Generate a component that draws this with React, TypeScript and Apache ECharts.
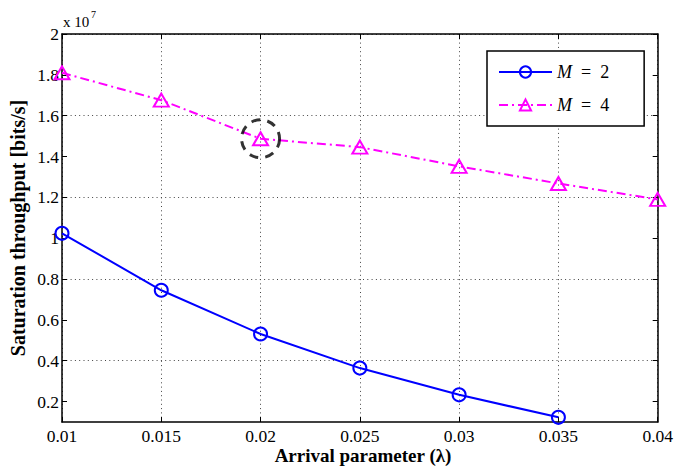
import React, { useEffect, useRef } from "react";
import * as echarts from "echarts";

const lambdaValues = [0.01, 0.015, 0.02, 0.025, 0.03, 0.035, 0.04];
const m2Values = [1.024, 0.745, 0.531, 0.364, 0.233, 0.123];
const m4Values = [1.81, 1.676, 1.487, 1.446, 1.352, 1.268, 1.19];
const highlightPoint = [0.02, 1.487];
const yTickValues = [0.2, 0.4, 0.6, 0.8, 1, 1.2, 1.4, 1.6, 1.8, 2];
const seriesNames = ["M = 2", "M = 4"];

const FONT = "'Liberation Serif', 'DejaVu Serif', serif";

export default function App() {
  const ref = useRef<HTMLDivElement>(null);
  useEffect(() => {
    if (!ref.current) return;
    const chart = echarts.init(ref.current, null, { renderer: "svg" });
    const gridLine = { type: [1, 3.3], color: "#444", width: 1 };
    const axisLine = { show: true, lineStyle: { color: "#000", width: 1.5 } };
    const option: any = {
      animation: false,
      backgroundColor: "#fff",
      grid: { left: 62, top: 34, width: 598, height: 388, containLabel: false },
      xAxis: [
        {
          type: "value",
          min: 0.01,
          max: 0.04,
          interval: 0.005,
          position: "bottom",
          axisLine,
          axisTick: { show: true, inside: true, length: 5, lineStyle: { color: "#000" } },
          axisLabel: {
            color: "#000",
            fontFamily: FONT,
            fontSize: 17.5,
            margin: 5,
            formatter: (v: number) => String(Math.round(v * 1000) / 1000),
          },
          splitLine: { show: true, lineStyle: gridLine },
        },
        {
          type: "value",
          min: 0.01,
          max: 0.04,
          interval: 0.005,
          position: "top",
          axisLine,
          axisTick: { show: true, inside: true, length: 5, lineStyle: { color: "#000" } },
          axisLabel: { show: false },
          splitLine: { show: false },
        },
      ],
      yAxis: [
        {
          type: "value",
          min: 0.1,
          max: 2,
          interval: 0.1,
          position: "left",
          axisLine,
          axisTick: {
            show: true,
            inside: true,
            length: 5,
            customValues: yTickValues,
            lineStyle: { color: "#000" },
          },
          axisLabel: {
            color: "#000",
            fontFamily: FONT,
            fontSize: 17.5,
            margin: 3,
            customValues: yTickValues,
            formatter: (v: number) => String(Math.round(v * 10) / 10),
          },
          splitLine: { show: true, lineStyle: { ...gridLine, color: ["rgba(0,0,0,0)", "#444"] } },
        },
        {
          type: "value",
          min: 0.1,
          max: 2,
          interval: 0.1,
          position: "right",
          axisLine,
          axisTick: {
            show: true,
            inside: true,
            length: 5,
            customValues: yTickValues,
            lineStyle: { color: "#000" },
          },
          axisLabel: { show: false },
          splitLine: { show: false },
        },
      ],
      legend: {
        data: seriesNames,
        orient: "vertical",
        left: 487,
        top: 51,
        itemWidth: 53,
        itemHeight: 14,
        itemGap: 15,
        padding: [12, 35, 12, 11],
        borderColor: "#000",
        borderWidth: 1.5,
        backgroundColor: "#fff",
        formatter: (name: string) =>
          name.replace("M", "{i|M}").replace(/ = /, "\u2002=\u2002"),
        textStyle: {
          fontFamily: FONT,
          fontSize: 18,
          color: "#000",
          width: 58,
          rich: { i: { fontFamily: FONT, fontStyle: "italic", fontSize: 18, color: "#000" } },
        },
      },
      series: [
        {
          name: seriesNames[0],
          type: "line",
          data: m2Values.map((v, i) => [lambdaValues[i], v]),
          symbol: "circle",
          symbolSize: 13,
          lineStyle: { color: "#0000ff", width: 2 },
          itemStyle: { color: "none", borderColor: "#0000ff", borderWidth: 2 },
          z: 3,
        },
        {
          name: seriesNames[1],
          type: "line",
          data: m4Values.map((v, i) => [lambdaValues[i], v]),
          symbol: "triangle",
          symbolSize: [15, 13],
          lineStyle: { color: "#ff00ff", width: 2, type: [9, 4, 2, 4] },
          itemStyle: { color: "none", borderColor: "#ff00ff", borderWidth: 2 },
          z: 3,
        },
        {
          name: "highlight",
          type: "scatter",
          data: [highlightPoint],
          symbol: "circle",
          symbolSize: 38,
          itemStyle: {
            color: "none",
            borderColor: "#000",
            borderWidth: 3,
            borderType: [9, 7],
          },
          z: 4,
        },
      ],
      graphic: [
        {
          type: "text",
          left: 63,
          top: 14,
          style: { text: "x 10", fontFamily: FONT, fontSize: 15, fill: "#000" },
        },
        {
          type: "text",
          left: 91,
          top: 9,
          style: { text: "7", fontFamily: FONT, fontSize: 10, fill: "#000" },
        },
        {
          type: "text",
          x: 363,
          y: 455,
          style: {
            text: "Arrival parameter (λ)",
            fontFamily: FONT,
            fontWeight: "bold",
            fontSize: 19,
            fill: "#000",
            align: "center",
            verticalAlign: "middle",
          },
        },
        {
          type: "text",
          x: 18,
          y: 228,
          rotation: Math.PI / 2,
          style: {
            text: "Saturation throughput [bits/s]",
            fontFamily: FONT,
            fontWeight: "bold",
            fontSize: 20,
            fill: "#000",
            align: "center",
            verticalAlign: "middle",
          },
        },
      ],
    };
    chart.setOption(option);
    return () => chart.dispose();
  }, []);
  return (
    <div
      ref={ref}
      style={{ position: "absolute", left: 0, top: 0, width: 676, height: 466 }}
    />
  );
}
